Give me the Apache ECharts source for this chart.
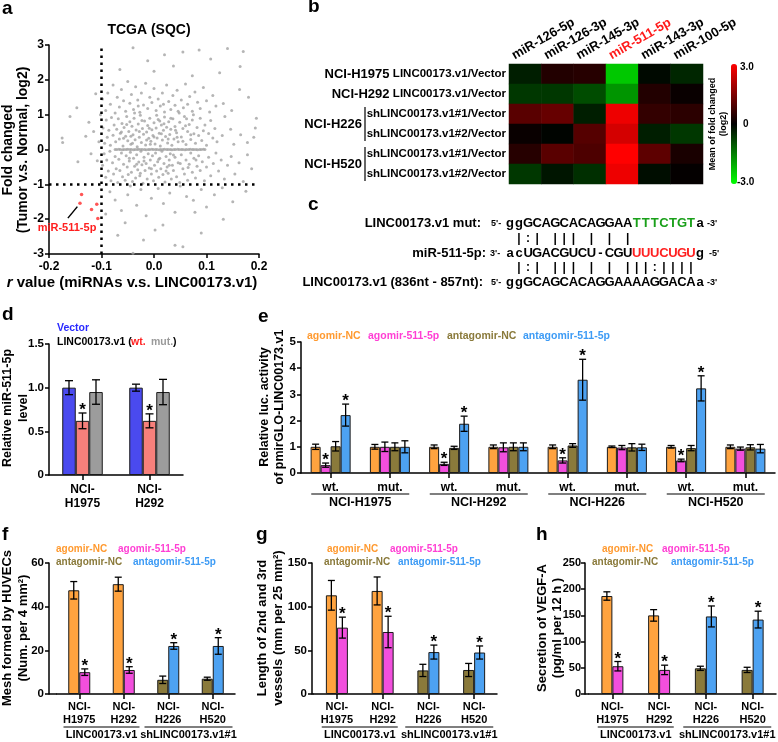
<!DOCTYPE html>
<html><head><meta charset="utf-8">
<script src="https://cdn.jsdelivr.net/npm/echarts/dist/echarts.min.js"></script>
<style>html,body{margin:0;padding:0;background:#fff}#c{width:778px;height:742px}</style>
</head><body><div id="c"></div>
<script>
// ================= DATA =================
// Panel a: TCGA (SQC) scatter  [r value, fold change log2]
const scatterGray = [
[-0.065,2.3],[-0.04,2.92],[-0.012,2.55],[0.0,2.25],[0.02,2.72],[0.037,2.4],[0.055,2.8],[0.073,2.12],[0.086,2.86],[0.108,2.6],[0.125,2.2],[0.14,2.9],[0.164,2.38],[0.17,2.81],
[-0.098,1.45],[-0.092,1.12],[-0.088,1.62],[-0.083,1.3],[-0.078,1.85],[-0.074,1.05],[-0.07,1.5],[-0.066,1.22],[-0.062,1.72],[-0.058,1.4],[-0.054,1.1],[-0.05,1.95],[-0.046,1.33],[-0.043,1.58],[-0.039,1.15],[-0.035,1.8],[-0.031,1.42],[-0.027,1.07],[-0.024,1.62],[-0.02,1.28],[-0.016,1.9],[-0.012,1.18],[-0.008,1.5],[-0.004,1.35],[0.0,1.75],[0.004,1.12],[0.008,1.45],[0.012,1.25],[0.016,1.62],[0.02,1.08],[0.024,1.85],[0.028,1.38],[0.032,1.15],[0.036,1.55],[0.04,1.27],[0.044,1.7],[0.048,1.05],[0.052,1.42],[0.056,1.2],[0.06,1.88],[0.064,1.3],[0.068,1.52],[0.073,1.1],[0.078,1.65],[0.083,1.36],[0.088,1.18],[0.094,1.78],[0.1,1.4],[0.106,1.08],[0.112,1.55],[0.118,1.25],[0.132,1.32],[0.148,1.12],[0.163,1.72],[0.18,1.5],
[-0.097,0.62],[-0.094,0.18],[-0.091,0.85],[-0.089,0.35],[-0.086,0.55],[-0.083,0.12],[-0.081,0.92],[-0.078,0.41],[-0.076,0.7],[-0.073,0.22],[-0.071,0.58],[-0.068,0.88],[-0.066,0.3],[-0.064,0.47],[-0.061,0.75],[-0.059,0.1],[-0.057,0.63],[-0.054,0.38],[-0.052,0.95],[-0.05,0.25],[-0.048,0.52],[-0.046,0.8],[-0.044,0.15],[-0.042,0.67],[-0.04,0.42],[-0.038,0.9],[-0.036,0.28],[-0.034,0.56],[-0.032,0.08],[-0.03,0.73],[-0.028,0.35],[-0.026,0.98],[-0.024,0.2],[-0.022,0.6],[-0.02,0.44],[-0.018,0.82],[-0.016,0.13],[-0.014,0.5],[-0.012,0.69],[-0.01,0.32],[-0.008,0.9],[-0.006,0.24],[-0.004,0.57],[-0.002,0.4],[0.0,0.77],[0.002,0.16],[0.004,0.62],[0.006,0.33],[0.008,0.86],[0.01,0.47],[0.012,0.1],[0.014,0.7],[0.016,0.27],[0.018,0.55],[0.02,0.93],[0.022,0.37],[0.024,0.64],[0.026,0.19],[0.028,0.8],[0.03,0.43],[0.032,0.58],[0.034,0.12],[0.036,0.88],[0.038,0.3],[0.04,0.66],[0.043,0.48],[0.046,0.22],[0.049,0.78],[0.052,0.36],[0.055,0.6],[0.058,0.95],[0.061,0.14],[0.064,0.52],[0.067,0.72],[0.07,0.29],[0.073,0.85],[0.076,0.45],[0.079,0.18],[0.082,0.63],[0.085,0.4],[0.088,0.9],[0.091,0.26],[0.094,0.54],[0.097,0.7],[0.1,0.12],[0.104,0.46],[0.108,0.83],[0.112,0.33],[0.116,0.6],[0.12,0.22],[0.13,0.4],[0.135,0.95],[0.146,0.58],[0.152,0.15],[0.165,0.42],[0.178,0.2],[0.19,0.35],[0.195,0.9],[0.193,0.62],
[-0.058,0.32],[-0.052,0.72],[-0.047,-0.25],[-0.041,0.18],[-0.037,1.05],[-0.033,-0.42],[-0.028,0.52],[-0.023,0.83],[-0.019,-0.33],[-0.014,0.27],[-0.009,0.61],[-0.005,-0.55],[0.0,0.36],[0.005,0.98],[0.009,-0.28],[0.014,0.45],[0.019,0.74],[0.023,-0.62],[0.027,0.3],[0.032,0.9],[0.037,-0.16],[0.041,0.55],[0.046,1.1],[0.05,-0.4],[0.055,0.24],[0.06,0.68],[0.065,-0.52],[0.07,0.42],[0.075,1.0],[0.08,-0.3],[-0.062,0.5],[-0.044,0.38],[-0.026,-0.68],[-0.007,0.15],[0.011,0.82],[0.029,-0.45],[0.044,0.35],[0.062,0.88],[-0.03,1.25],[0.018,1.3],
[-0.175,0.33],[-0.174,0.2],[-0.16,0.95],[-0.147,1.2],[-0.13,0.38],[-0.124,0.78],[-0.115,0.52],[-0.111,1.6],[-0.105,0.22],[-0.102,1.0],[-0.145,-0.35],[-0.12,-0.12],[-0.108,-0.32],
[-0.098,-0.45],[-0.095,-0.12],[-0.092,-0.8],[-0.09,-0.3],[-0.087,-0.62],[-0.084,-0.05],[-0.082,-0.9],[-0.079,-0.38],[-0.077,-0.7],[-0.074,-0.2],[-0.072,-0.55],[-0.069,-0.95],[-0.067,-0.28],[-0.065,-0.6],[-0.062,-0.1],[-0.06,-0.78],[-0.058,-0.42],[-0.055,-0.88],[-0.053,-0.18],[-0.051,-0.5],[-0.049,-0.72],[-0.047,-0.33],[-0.045,-0.08],[-0.043,-0.65],[-0.041,-0.92],[-0.039,-0.25],[-0.037,-0.48],[-0.035,-0.82],[-0.033,-0.15],[-0.031,-0.58],[-0.029,-0.36],[-0.027,-0.75],[-0.025,-0.05],[-0.023,-0.44],[-0.021,-0.97],[-0.019,-0.22],[-0.017,-0.6],[-0.015,-0.4],[-0.013,-0.85],[-0.011,-0.12],[-0.009,-0.53],[-0.007,-0.3],[-0.005,-0.7],[-0.003,-0.18],[-0.001,-0.9],[0.001,-0.45],[0.003,-0.1],[0.005,-0.62],[0.007,-0.35],[0.009,-0.8],[0.011,-0.25],[0.013,-0.55],[0.015,-0.05],[0.017,-0.72],[0.019,-0.4],[0.021,-0.93],[0.023,-0.2],[0.025,-0.5],[0.027,-0.68],[0.029,-0.3],[0.031,-0.12],[0.033,-0.85],[0.035,-0.45],[0.037,-0.6],[0.04,-0.22],[0.043,-0.78],[0.046,-0.38],[0.049,-0.95],[0.052,-0.15],[0.055,-0.55],[0.058,-0.7],[0.061,-0.3],[0.064,-0.88],[0.067,-0.42],[0.07,-0.1],[0.073,-0.65],[0.076,-0.25],[0.079,-0.82],[0.082,-0.48],[0.085,-0.18],[0.088,-0.6],[0.092,-0.35],[0.096,-0.9],[0.1,-0.5],[0.104,-0.22],[0.108,-0.75],[0.113,-0.4],[0.118,-0.1],[0.123,-0.62],[0.128,-0.3],[0.134,-0.85],[0.14,-0.45],[0.147,-0.2],[0.154,-0.7],[0.162,-0.38],[0.17,-0.92],[0.178,-0.15],[0.186,-0.55],
[-0.092,-1.85],[-0.084,-1.21],[-0.074,-1.45],[-0.062,-1.75],[-0.05,-1.3],[-0.045,-1.05],[-0.033,-1.6],[-0.025,-1.15],[-0.015,-1.9],[-0.005,-1.4],[0.008,-1.12],[0.018,-1.55],[0.03,-1.25],[0.04,-1.8],[0.05,-1.05],[0.062,-1.35],[0.075,-1.46],[0.078,-1.8],[0.09,-1.15],[0.1,-1.65],[0.115,-1.3],[0.13,-1.1],[0.15,-1.5],[0.175,-1.2],
[-0.069,-2.46],[-0.055,-2.1],[-0.04,-2.98],[-0.02,-2.6],[0.002,-2.31],[0.017,-2.17],[0.04,-2.75],[0.055,-2.79],[0.09,-2.4],[0.132,-2.0],
[-0.074,0],[-0.071,0],[-0.067,0.01],[-0.064,0],[-0.06,-0.01],[-0.057,0],[-0.053,0],[-0.05,0.01],[-0.046,0],[-0.043,0],[-0.039,-0.01],[-0.036,0],[-0.032,0],[-0.029,0.01],[-0.025,0],[-0.022,0],[-0.018,0],[-0.015,-0.01],[-0.011,0],[-0.008,0],[-0.004,0.01],[-0.001,0],[0.003,0],[0.006,0],[0.01,-0.01],[0.013,0],[0.017,0],[0.02,0.01],[0.024,0],[0.027,0],[0.031,0],[0.034,-0.01],[0.038,0],[0.041,0],[0.045,0.01],[0.048,0],[0.052,0],[0.055,0],[0.059,-0.01],[0.062,0],[0.066,0],[0.069,0.01],[0.073,0],[0.076,0],[0.08,0],[0.083,-0.01],[0.087,0],[0.09,0],[0.094,0.01],[0.097,0]
];
const scatterHighlight = [[-0.138,-1.29],[-0.141,-1.54],[-0.119,-1.72],[-0.109,-1.57],[-0.107,-1.98]];
const highlightName = 'miR-511-5p';
const rThreshold = -0.1, fcThreshold = -1;

// Panel b: heatmap (log2 mean fold change)
const heatMiRNAs = ['miR-126-5p','miR-126-3p','miR-145-3p','miR-511-5p','miR-143-3p','miR-100-5p'];
const heatCells = ['NCI-H1975','NCI-H292','NCI-H226','NCI-H226','NCI-H520','NCI-H520'];
const heatConstructs = ['LINC00173.v1/Vector','LINC00173.v1/Vector','shLINC00173.v1#1/Vector','shLINC00173.v1#2/Vector','shLINC00173.v1#1/Vector','shLINC00173.v1#2/Vector'];
const heatValues = [
  [-0.35, 0.40, 0.45, -2.35, -0.10, -0.45],
  [-0.65, -0.65, -0.90, -1.75, 0.40, 0.10],
  [1.05, 1.20, -0.35, 2.80, 0.60, 0.50],
  [0.10, -0.05, 1.00, 2.50, -0.35, -0.65],
  [0.45, 1.05, 0.90, 3.00, 1.10, 0.30],
  [-0.65, -0.25, -0.55, 2.80, -0.15, 0.05]
];

// Panel c: sequences
const seqMut = 'ggGCAGCACAGGAATTTCTGTa';
const seqMiR = 'acUGACGUCU-CGUUUUCUGUg';
const seqWT  = 'ggGCAGCACAGGAAAAGGACAa';
const pairsTop    = ' |:| ||| | | |        ';
const pairsBottom = ' |:| ||| | | |||:|||| ';

// Panel d
const dCats = ['NCI-\nH1975','NCI-\nH292'];
const dVector = [1.00, 1.00], dVectorErr = [0.08, 0.04];
const dWt = [0.62, 0.62], dWtErr = [0.09, 0.08];
const dMut = [0.95, 0.95], dMutErr = [0.14, 0.145];

// Panel e
const eCats = ['wt.','mut.','wt.','mut.','wt.','mut.','wt.','mut.'];
const eCellGroups = ['NCI-H1975','NCI-H292','NCI-H226','NCI-H520'];
const eAgoNC = [1.00,1.00,1.00,1.00,1.00,1.00,1.00,1.00];
const eAgoNCErr = [0.10,0.09,0.07,0.07,0.07,0.03,0.05,0.07];
const eAgo511 = [0.30,1.00,0.35,0.98,0.48,0.97,0.48,0.93];
const eAgo511Err = [0.08,0.18,0.06,0.17,0.10,0.08,0.05,0.06];
const eAntNC = [1.02,1.00,0.96,1.00,1.05,0.98,0.95,0.98];
const eAntNCErr = [0.18,0.15,0.06,0.15,0.07,0.14,0.10,0.10];
const eAnt511 = [2.21,1.00,1.88,1.00,3.56,0.98,3.23,0.93];
const eAnt511Err = [0.42,0.23,0.29,0.15,0.78,0.12,0.48,0.16];
const eStars = [1,0,1,0,1,0,1,0];

// Panels f, g, h
const fghCats = ['NCI-\nH1975','NCI-\nH292','NCI-\nH226','NCI-\nH520'];
const fghGroups = ['LINC00173.v1','shLINC00173.v1#1'];
const fAgoNC = [47.5, 50.3, '-', '-'], fAgoNCErr = [4.0, 3.2, 0, 0];
const fAgo511 = [10.0, 11.0, '-', '-'], fAgo511Err = [1.5, 1.5, 0, 0];
const fAntNC = ['-', '-', 6.5, 7.0], fAntNCErr = [0, 0, 1.7, 0.7];
const fAnt511 = ['-', '-', 22.0, 22.0], fAnt511Err = [0, 0, 1.5, 3.8];
const gAgoNC = [113, 118, '-', '-'], gAgoNCErr = [17, 16, 0, 0];
const gAgo511 = [76, 71, '-', '-'], gAgo511Err = [12, 18, 0, 0];
const gAntNC = ['-', '-', 27, 27.5], gAntNCErr = [0, 0, 7, 7.5];
const gAnt511 = ['-', '-', 48, 47.5], gAnt511Err = [0, 0, 8, 7.5];
const hAgoNC = [187, 150, '-', '-'], hAgoNCErr = [8, 11, 0, 0];
const hAgo511 = [53, 46, '-', '-'], hAgo511Err = [9, 9, 0, 0];
const hAntNC = ['-', '-', 49, 46], hAntNCErr = [0, 0, 4, 5];
const hAnt511 = ['-', '-', 148, 142], hAnt511Err = [0, 0, 20, 16];

// ================= STYLE / LAYOUT =================
const F = '"Liberation Sans", Arial, Helvetica, sans-serif';
const C = {orange:'#FFA33F', pink:'#F24FDD', olive:'#8A7A3B', blue:'#4DA2F2',
           vector:'#4A4AEF', wt:'#F7807B', mut:'#9C9C9C',
           orangeT:'#FF9A30', pinkT:'#FF3FD4', oliveT:'#8A7A3B', blueT:'#3D9BF5'};

const chart = echarts.init(document.getElementById('c'), null, {renderer:'canvas'});

const grids = [
  {left:49, top:45, width:210, height:209},    // a
  {left:509, top:64, width:194, height:120},   // b
  {left:49, top:344, width:134, height:131},   // d
  {left:301, top:342, width:474, height:131},  // e
  {left:57, top:563, width:178, height:131},   // f
  {left:314, top:563, width:183, height:131},  // g
  {left:589, top:563, width:187, height:131}   // h
];

function valAxis(g, min, max, interval, opts){
  opts = opts || {};
  return {type:'value', gridIndex:g, min, max, interval, offset:opts.offset||0,
    axisLine:{show:true, onZero:false, lineStyle:{color:'#000', width:1.5}},
    axisTick:{show:true, length:4, lineStyle:{color:'#000', width:1.5}},
    axisLabel:{color:'#000', fontFamily:F, fontWeight:'bold', fontSize:opts.fs||11.5, margin:opts.margin||5, formatter:opts.fmt},
    splitLine:{show:false}};
}
function catAxis(g, data, margin, fs){
  return {type:'category', gridIndex:g, data,
    axisLine:{show:true, onZero:false, lineStyle:{color:'#000', width:1.5}},
    axisTick:{show:true, alignWithLabel:true, length:5, lineStyle:{color:'#000', width:1.5}},
    axisLabel:{color:'#000', fontFamily:F, fontWeight:'bold', fontSize:fs, lineHeight:fs+2, margin, interval:0}};
}
function bar(name, g, data, color, w, stack){
  return {type:'bar', name, xAxisIndex:g, yAxisIndex:g, data, barWidth:w, barGap:'0%', stack,
    itemStyle:{color, borderColor:'#1a1a1a', borderWidth:1}, z:2};
}
function err(g, vals, errs, offset, capW, stars){
  const data = [];
  vals.forEach((v,i)=>{ if (typeof v === 'number') data.push([i, v, errs[i], stars ? (Array.isArray(stars) ? stars[i] : 1) : 0]); });
  return {type:'custom', xAxisIndex:g, yAxisIndex:g, data, z:5, silent:true, clip:false,
    renderItem(params, api){
      const i = api.value(0), v = api.value(1), e = api.value(2), s = api.value(3);
      const top = api.coord([i, v+e]), bot = api.coord([i, v-e]);
      const x = top[0] + offset;
      const st = {stroke:'#000', lineWidth:1.3};
      const ch = [
        {type:'line', shape:{x1:x, y1:top[1], x2:x, y2:bot[1]}, style:st},
        {type:'line', shape:{x1:x-capW/2, y1:top[1], x2:x+capW/2, y2:top[1]}, style:st},
        {type:'line', shape:{x1:x-capW/2, y1:bot[1], x2:x+capW/2, y2:bot[1]}, style:st}];
      if (s) ch.push({type:'text', x:x, y:top[1]-11, style:{text:'*', fontSize:17, fontWeight:'bold', fontFamily:F, fill:'#000', align:'center', verticalAlign:'top'}});
      return {type:'group', children:ch};
    }};
}

const heatData = [];
heatValues.forEach((row, r) => row.forEach((v, c) => heatData.push([c, r, v])));
const heatRowKeys = heatCells.map((c, i) => c + ' ' + heatConstructs[i]);
const cellCount = {};
heatCells.forEach(c => cellCount[c] = (cellCount[c]||0) + 1);

const fghSets = [
  [4, fAgoNC, fAgoNCErr, fAgo511, fAgo511Err, fAntNC, fAntNCErr, fAnt511, fAnt511Err],
  [5, gAgoNC, gAgoNCErr, gAgo511, gAgo511Err, gAntNC, gAntNCErr, gAnt511, gAnt511Err],
  [6, hAgoNC, hAgoNCErr, hAgo511, hAgo511Err, hAntNC, hAntNCErr, hAnt511, hAnt511Err]
];

const series = [
  {type:'scatter', xAxisIndex:0, yAxisIndex:0, data:scatterGray, symbolSize:3, itemStyle:{color:'#a2a2a2'}, z:2,
   markLine:{silent:true, symbol:'none', animation:false, label:{show:false},
     lineStyle:{color:'#000', width:2.5, type:[2.5,4.5]},
     data:[{xAxis:rThreshold},{yAxis:fcThreshold}]}},
  {type:'scatter', xAxisIndex:0, yAxisIndex:0, data:scatterHighlight, symbolSize:3.5, itemStyle:{color:'#ff2a2a'}, z:3,
   markLine:{silent:true, symbol:['none','arrow'], symbolSize:[0,9], animation:false, label:{show:false},
     lineStyle:{color:'#000', width:1.5, type:'solid'},
     data:[[{coord:[-0.164,-1.97]},{coord:[-0.146,-1.64]}]]}},
  {type:'heatmap', xAxisIndex:1, yAxisIndex:1, data:heatData, itemStyle:{borderWidth:0}},
  bar('Vector', 2, dVector, C.vector, 13.5),
  bar('wt.', 2, dWt, C.wt, 13.5),
  bar('mut.', 2, dMut, C.mut, 13.5),
  err(2, dVector, dVectorErr, -13.5, 8, false),
  err(2, dWt, dWtErr, 0, 8, true),
  err(2, dMut, dMutErr, 13.5, 8, false),
  bar('agomir-NC', 3, eAgoNC, C.orange, 10),
  bar('agomir-511-5p', 3, eAgo511, C.pink, 10),
  bar('antagomir-NC', 3, eAntNC, C.olive, 10),
  bar('antagomir-511-5p', 3, eAnt511, C.blue, 10),
  err(3, eAgoNC, eAgoNCErr, -15, 7, false),
  err(3, eAgo511, eAgo511Err, -5, 7, eStars),
  err(3, eAntNC, eAntNCErr, 5, 7, false),
  err(3, eAnt511, eAnt511Err, 15, 7, eStars)
];
fghSets.forEach(s => {
  const g = s[0];
  series.push(bar('agomir-NC', g, s[1], C.orange, 11, 'L'+g));
  series.push(bar('agomir-511-5p', g, s[3], C.pink, 11, 'R'+g));
  series.push(bar('antagomir-NC', g, s[5], C.olive, 11, 'L'+g));
  series.push(bar('antagomir-511-5p', g, s[7], C.blue, 11, 'R'+g));
  series.push(err(g, s[1], s[2], -5.5, 7, false));
  series.push(err(g, s[3], s[4], 5.5, 7, true));
  series.push(err(g, s[5], s[6], -5.5, 7, false));
  series.push(err(g, s[7], s[8], 5.5, 7, true));
});

const xAxes = [
  valAxis(0, -0.2, 0.2, 0.1, {fmt: v => v.toFixed(1), margin:7, fs:12}),
  {type:'category', gridIndex:1, position:'top', data: heatMiRNAs,
   axisLine:{show:false}, axisTick:{show:false}, axisLabel:{show:false}},
  catAxis(2, dCats, 8, 12),
  catAxis(3, eCats, 8, 12),
  catAxis(4, fghCats, 6, 11),
  catAxis(5, fghCats, 6, 11),
  catAxis(6, fghCats, 6, 11)
];
const yAxes = [
  valAxis(0, -3, 3, 1, {fmt: v => String(Math.round(v)), fs:12}),
  {type:'category', gridIndex:1, inverse:true, data: heatRowKeys,
   axisLine:{show:false}, axisTick:{show:false},
   axisLabel:{margin:3, interval:0,
     formatter:(v, i) => cellCount[heatCells[i]] === 1 ? `{c|${heatCells[i]}} {s|${heatConstructs[i]}}` : `{s|${heatConstructs[i]}}`,
     rich:{c:{fontSize:13, fontWeight:'bold', fontFamily:F, color:'#000'}, s:{fontSize:11.5, fontWeight:'bold', fontFamily:F, color:'#000'}}}},
  valAxis(2, 0, 1.5, 0.5, {fmt: v => v === 0 ? '0' : v.toFixed(1)}),
  valAxis(3, 0, 5, 1, {}),
  valAxis(4, 0, 60, 20, {offset:8}),
  valAxis(5, 0, 150, 50, {offset:2}),
  valAxis(6, 0, 250, 50, {offset:4, margin:4, fs:11})
];

chart.setOption({
  animation:false,
  backgroundColor:'#fff',
  textStyle:{fontFamily:F},
  grid: grids,
  xAxis: xAxes,
  yAxis: yAxes,
  visualMap:[{type:'continuous', min:-3, max:3, seriesIndex:2, orient:'vertical', left:731, top:64,
    itemWidth:6, itemHeight:120, calculable:false, padding:0, showLabel:false, text:null,
    inRange:{color:['#00ff00','#000000','#ff0000']}}],
  series
});

// ================= GRAPHIC TEXT =================
function T(text, x, y, o){
  o = o || {};
  return {type:'text', x, y, rotation:o.rot||0, z:100, silent:true,
    style:{text, fontFamily:F, fontWeight:o.w||'bold', fontSize:o.fs||12, fill:o.color||'#000',
      align:o.align||'left', verticalAlign:o.va||'middle', rich:o.rich}};
}
function L(x1, y1, x2, y2, w){
  return {type:'line', z:100, silent:true, shape:{x1,y1,x2,y2}, style:{stroke:'#000', lineWidth:w||1.2}};
}
const R90 = Math.PI/2;
const G = [];
// panel letters
[['a',2,9],['b',308,7],['c',308,205],['d',2,315],['e',258,317],['f',2,535],['g',256,535],['h',536,535]]
  .forEach(p => G.push(T(p[0], p[1], p[2], {fs:19})));

// ---- a ----
G.push(T('TCGA (SQC)', 149, 30, {fs:14, align:'center'}));
G.push(T('Fold changed', 8, 150, {fs:14, align:'center', rot:R90}));
G.push(T('(Tumor v.s. Normal, log2)', 23, 150, {fs:14, align:'center', rot:R90}));
G.push(T('{i|r} value (miRNAs v.s. LINC00173.v1)', 132, 283, {fs:15, align:'center',
  rich:{i:{fontStyle:'italic', fontWeight:'bold', fontSize:15, fontFamily:F}}}));
G.push(T(highlightName, 67, 228, {fs:11, align:'center', color:'#ff2020'}));

// ---- b ----
const hb = grids[1];
const rowH = hb.height / heatCells.length;
heatMiRNAs.forEach((m, i) => {
  const cx = chart.convertToPixel({xAxisIndex:1}, i);
  G.push(T(m, cx - 9, hb.top - 2, {fs:13, va:'bottom', rot:Math.PI/6, color: m === highlightName ? '#ff1a1a' : '#000'}));
});
const seen = {};
heatCells.forEach((c, i) => {
  if (cellCount[c] > 1 && !seen[c]) {
    seen[c] = true;
    const n = cellCount[c];
    const y0 = hb.top + i*rowH, y1 = y0 + n*rowH;
    G.push(L(365, y0+3, 365, y1-3, 1.2));
    G.push(T(c, 362, (y0+y1)/2, {fs:13, align:'right'}));
  }
});
G.push(T('3.0', 740, 67, {fs:10}));
G.push(T('0', 743, 124, {fs:10}));
G.push(T('-3.0', 737, 182, {fs:10}));
G.push(T('Mean of fold changed', 713, 124, {fs:9, align:'center', rot:R90}));
G.push(T('(log2)', 724, 124, {fs:9, align:'center', rot:R90}));

// ---- c ----
const pitch = 9.05, x0 = 510;
function seqRow(seq, y, colorFn, fs){
  for (let i = 0; i < seq.length; i++) {
    const ch = seq[i];
    if (ch === ' ') continue;
    G.push(T(ch, x0 + i*pitch, y, {fs:fs||13, align:'center', color: colorFn ? colorFn(i) : '#000'}));
  }
}
G.push(T('LINC00173.v1 mut:', 481, 223, {fs:13, align:'right'}));
G.push(T("5'-", 491, 224, {fs:9}));
seqRow(seqMut, 223, i => (i >= 14 && i <= 20) ? '#1aa01a' : '#000');
G.push(T("-3'", 707, 224, {fs:9}));
seqRow(pairsTop, 239, null, 12);
G.push(T('miR-511-5p:', 486, 253, {fs:13, align:'right'}));
G.push(T("3'-", 490, 254, {fs:9}));
seqRow(seqMiR, 253, i => (i >= 14 && i <= 20) ? '#ff2020' : '#000');
G.push(T("-5'", 709, 254, {fs:9}));
seqRow(pairsBottom, 268, null, 12);
G.push(T('LINC00173.v1 (836nt - 857nt):', 483, 282, {fs:13, align:'right'}));
G.push(T("5'-", 491, 283, {fs:9}));
seqRow(seqWT, 282, null);
G.push(T("-3'", 707, 283, {fs:9}));

// ---- d ----
G.push(T('Vector', 57, 328, {fs:10.5, color:'#2a2aff'}));
G.push(T('LINC00173.v1 (', 57, 342, {fs:10.5}));
G.push(T('wt.', 131, 342, {fs:10.5, color:'#ff2020'}));
G.push(T('mut.', 151, 342, {fs:10.5, color:'#9a9a9a'}));
G.push(T(')', 173, 342, {fs:10.5}));
G.push(T('Relative miR-511-5p', 8, 408, {fs:12.5, align:'center', rot:R90}));
G.push(T('level', 24, 408, {fs:12.5, align:'center', rot:R90}));

// ---- e ----
G.push(T('agomir-NC', 307, 336, {fs:10.5, color:C.orangeT}));
G.push(T('agomir-511-5p', 368, 336, {fs:10.5, color:C.pinkT}));
G.push(T('antagomir-NC', 447, 336, {fs:10.5, color:C.oliveT}));
G.push(T('antagomir-511-5p', 523, 336, {fs:10.5, color:C.blueT}));
G.push(T('Relative luc. activity', 265, 407, {fs:12.5, align:'center', rot:R90}));
G.push(T('of pmirGLO-LINC00173.v1', 280, 407, {fs:12.5, align:'center', rot:R90}));
{
  const base = chart.convertToPixel({yAxisIndex:3}, 0);
  eCellGroups.forEach((name, k) => {
    const xa = chart.convertToPixel({xAxisIndex:3}, 2*k);
    const xb = chart.convertToPixel({xAxisIndex:3}, 2*k+1);
    const cx = (xa + xb)/2;
    G.push(L(cx-49, base+21, cx+49, base+21, 1.2));
    G.push(T(name, cx, base+30, {fs:12.5, align:'center'}));
  });
}

// ---- f, g, h ----
const fghLegend = [
  [56, 118, 56, 133], [327, 390, 324, 398], [602, 662, 592, 671]
];
const fghTitles = [
  ['Mesh formed by HUVECs', '(Num. per 4 mm\u00B2)', 7, 23],
  ['Length of 2nd and 3rd', 'vessels (mm per 25 mm\u00B2)', 262, 278],
  ['Secretion of VEGF-A', '(pg/ml per 12 h )', 542, 557]
];
fghSets.forEach((s, k) => {
  const g = s[0];
  const lg = fghLegend[k];
  G.push(T('agomir-NC', lg[0], 549, {fs:10, color:C.orangeT}));
  G.push(T('agomir-511-5p', lg[1], 549, {fs:10, color:C.pinkT}));
  G.push(T('antagomir-NC', lg[2], 562, {fs:10, color:C.oliveT}));
  G.push(T('antagomir-511-5p', lg[3], 562, {fs:10, color:C.blueT}));
  const tt = fghTitles[k];
  G.push(T(tt[0], tt[2], 628, {fs:13, align:'center', rot:R90}));
  G.push(T(tt[1], tt[3], 628, {fs:13, align:'center', rot:R90}));
  const base = chart.convertToPixel({yAxisIndex:g}, 0);
  const gl = grids[g].left;
  const yaxX = gl - yAxes[g].offset;
  G.push(L(yaxX, base, gl, base, 1.5));
  const c0 = chart.convertToPixel({xAxisIndex:g}, 0), c1 = chart.convertToPixel({xAxisIndex:g}, 1);
  const c2 = chart.convertToPixel({xAxisIndex:g}, 2), c3 = chart.convertToPixel({xAxisIndex:g}, 3);
  const m1 = (c0+c1)/2, m2 = (c2+c3)/2;
  G.push(L(m1-38, base+33, m1+38, base+33, 1.2));
  G.push(L(m2-46, base+33, m2+42, base+33, 1.2));
  G.push(T(fghGroups[0], m1, base+41, {fs:11, align:'center'}));
  G.push(T(fghGroups[1], m2-2, base+41, {fs:11, align:'center'}));
});

chart.setOption({graphic: G});
</script>
</body></html>
